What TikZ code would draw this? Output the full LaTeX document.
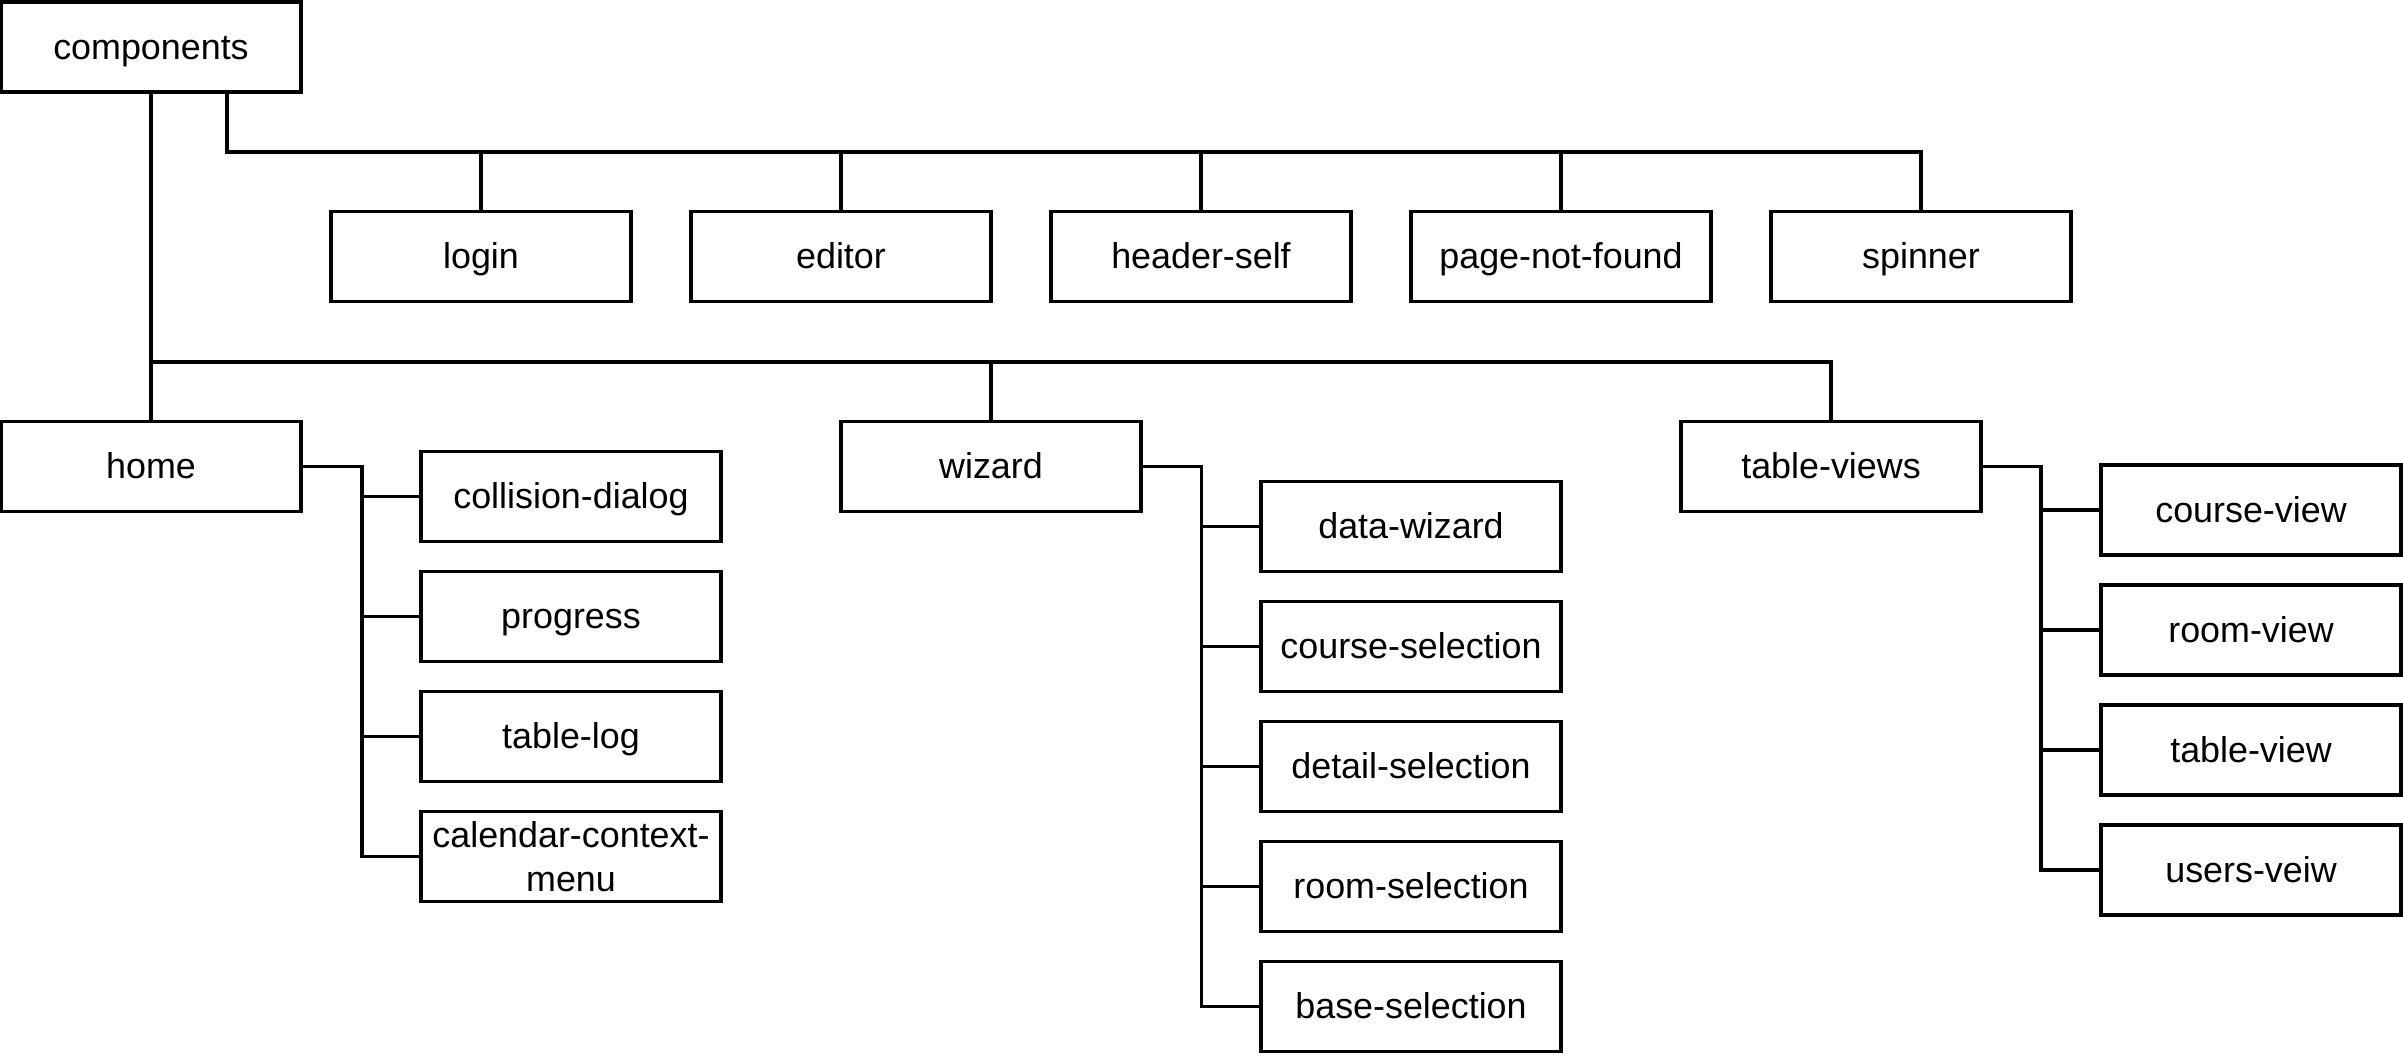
\documentclass[tikz,border=0pt]{standalone}
\usepackage{fontspec}
\setmainfont{Liberation Sans}
\usetikzlibrary{calc}
\begin{document}
\begin{tikzpicture}[x=0.01cm,y=-0.01cm,
  box/.style={draw=black,line width=0.95pt,minimum width=3cm,minimum height=0.9cm,inner sep=0pt,align=center,
    font=\fontsize{10.2}{12.6}\selectfont,text height=0.905em,text depth=0.212em},
  box2/.style={draw=black,line width=0.95pt,minimum width=3cm,minimum height=0.9cm,inner sep=0pt,align=center,
    font=\fontsize{10.2}{12.6}\selectfont},
  link/.style={draw=black,line width=0.95pt}]
\useasboundingbox (0,0) rectangle (2403,1056);
% root
\node[box] (comp) at (151,47) {components};
% first row
\node[box] (login) at (481,256.5) {login};
\node[box] (editor) at (841,256.5) {editor};
\node[box] (header) at (1201,256.5) {header-self};
\node[box] (pnf) at (1561,256.5) {page-not-found};
\node[box] (spinner) at (1921,256.5) {spinner};
% second row
\node[box] (home) at (151,466.5) {home};
\node[box] (wizard) at (991,466.5) {wizard};
\node[box] (tviews) at (1831,466.5) {table-views};
% home children
\node[box] (coll) at (571,496.5) {collision-dialog};
\node[box] (prog) at (571,616.5) {progress};
\node[box] (tlog) at (571,736.5) {table-log};
\node[box2] (cal) at (571,856.5) {calendar-context-\\menu};
% wizard children
\node[box] (dwiz) at (1411,526.5) {data-wizard};
\node[box] (csel) at (1411,646.5) {course-selection};
\node[box] (dsel) at (1411,766.5) {detail-selection};
\node[box] (rsel) at (1411,886.5) {room-selection};
\node[box] (bsel) at (1411,1006.5) {base-selection};
% table-views children
\node[box] (cview) at (2251,510) {course-view};
\node[box] (rview) at (2251,630) {room-view};
\node[box] (tview) at (2251,750) {table-view};
\node[box] (uview) at (2251,870) {users-veiw};
% helper coordinates
\coordinate (bus1) at (0,152);
\coordinate (bus2) at (0,362);
\coordinate (trH) at (362,0);
\coordinate (trW) at (1201.5,0);
\coordinate (trT) at (2041,0);
\coordinate (cA) at ($(comp.south)+(76,0)$);
% top row connectors
\foreach \n in {login,editor,header,pnf,spinner}
  \draw[link] (cA) |- (\n.north |- bus1) -- (\n.north);
% second row connectors
\draw[link] (comp.south) -- (home.north);
\foreach \n in {wizard,tviews}
  \draw[link] (comp.south) |- (\n.north |- bus2) -- (\n.north);
% home children
\foreach \n in {coll,prog,tlog,cal}
  \draw[link] (home.east) -| (trH |- \n.west) -- (\n.west);
% wizard children
\foreach \n in {dwiz,csel,dsel,rsel,bsel}
  \draw[link] (wizard.east) -| (trW |- \n.west) -- (\n.west);
% table-views children
\foreach \n in {cview,rview,tview,uview}
  \draw[link] (tviews.east) -| (trT |- \n.west) -- (\n.west);
\end{tikzpicture}
\end{document}
